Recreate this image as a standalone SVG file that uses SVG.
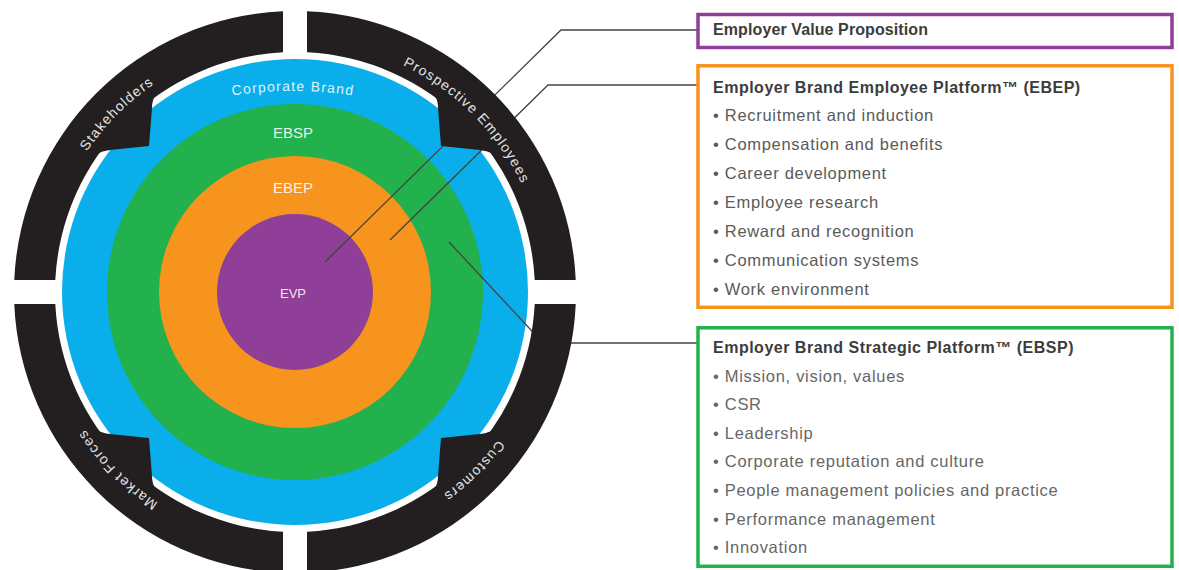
<svg xmlns="http://www.w3.org/2000/svg" width="1179" height="570" viewBox="0 0 1179 570">
<defs>
<style>
.f{font-family:"Liberation Sans",Arial,sans-serif}
.ring{font-size:14px;fill:#e2e2e2;letter-spacing:1.2px}
.inner{font-size:15px;fill:#ffffff;fill-opacity:0.88;text-anchor:middle}
.title{font-size:16px;font-weight:bold;fill:#3c3c3c;letter-spacing:0.5px}
.item{font-size:16.5px;fill:#5a5a5a;letter-spacing:0.7px}
.item2{font-size:16.5px;fill:#666666;letter-spacing:0.7px}
.box{fill:#ffffff;stroke-width:3.5}
.conn{fill:none;stroke:#444444;stroke-width:1.3}
.blk{fill:#231f20}
</style>
<path id="lblCircle" d="M 44,292 A 251 251 0 1 1 546,292 A 251 251 0 1 1 44,292"/>
<path id="cbArc" d="M 213,99 A 400 400 0 0 1 373,99"/>
<g id="seg" class="blk">
<path d="M 14.26,280 A 281 281 0 0 1 283,11.26 L 283,52.3 A 240 240 0 0 0 55.3,280 Z"/>
<path d="M 80,136 L 97,154 Q 102,151 110,150 L 149,146 L 152,108 Q 152,101 155,96 L 137,81 Z"/>
</g>
</defs>
<rect width="1179" height="570" fill="#ffffff"/>

<g id="corporate-brand">
<circle cx="295" cy="292" r="233" fill="#0aaeea"/>
<text class="f inner" style="font-size:14px;letter-spacing:1.2px"><textPath href="#cbArc" startOffset="50%">Corporate Brand</textPath></text>
</g>
<g id="ebsp-ring">
<circle cx="295" cy="292" r="188" fill="#22b14c"/>
<text class="f inner" x="293" y="138">EBSP</text>
</g>
<g id="ebep-ring">
<circle cx="295" cy="292" r="136" fill="#f7941d"/>
<text class="f inner" x="293" y="193">EBEP</text>
</g>
<g id="evp-core">
<circle cx="295" cy="292" r="78" fill="#8f3f97"/>
<text class="f inner" x="293" y="298" style="font-size:13px">EVP</text>
</g>

<g id="connectors">
<polyline class="conn" points="325,262 561,30 698,30"/>
<polyline class="conn" points="390,240 548,85 698,85"/>
<polyline class="conn" points="449,242 543,343 698,343"/>
</g>

<g id="stakeholders">
<use href="#seg"/>
<text class="f ring"><textPath href="#lblCircle" startOffset="12.5%" text-anchor="middle">Stakeholders</textPath></text>
</g>
<g id="prospective-employees">
<use href="#seg" transform="matrix(-1 0 0 1 590 0)"/>
<text class="f ring"><textPath href="#lblCircle" startOffset="37.5%" text-anchor="middle">Prospective Employees</textPath></text>
</g>
<g id="customers">
<use href="#seg" transform="matrix(-1 0 0 -1 590 584)"/>
<text class="f ring"><textPath href="#lblCircle" startOffset="62.5%" text-anchor="middle">Customers</textPath></text>
</g>
<g id="market-forces">
<use href="#seg" transform="matrix(1 0 0 -1 0 584)"/>
<text class="f ring"><textPath href="#lblCircle" startOffset="87.5%" text-anchor="middle">Market Forces</textPath></text>
</g>

<g id="box-evp">
<rect class="box" x="698" y="14.5" width="474" height="33" stroke="#8f3f97"/>
<text class="f title" x="713" y="35" style="letter-spacing:0.1px">Employer Value Proposition</text>
</g>

<g id="box-ebep">
<rect class="box" x="698" y="65.8" width="474" height="241.5" stroke="#f7941d"/>
<text class="f title" x="713" y="92.5">Employer Brand Employee Platform™ (EBEP)</text>
<text class="f item" x="713" y="121">• Recruitment and induction</text>
<text class="f item" x="713" y="150">• Compensation and benefits</text>
<text class="f item" x="713" y="179">• Career development</text>
<text class="f item" x="713" y="208">• Employee research</text>
<text class="f item" x="713" y="237">• Reward and recognition</text>
<text class="f item" x="713" y="266">• Communication systems</text>
<text class="f item" x="713" y="295">• Work environment</text>
</g>

<g id="box-ebsp">
<rect class="box" x="698" y="327.8" width="474" height="238.5" stroke="#22b14c"/>
<text class="f title" x="713" y="352.5">Employer Brand Strategic Platform™ (EBSP)</text>
<text class="f item2" x="713" y="381.5">• Mission, vision, values</text>
<text class="f item2" x="713" y="410">• CSR</text>
<text class="f item2" x="713" y="438.7">• Leadership</text>
<text class="f item2" x="713" y="467.3">• Corporate reputation and culture</text>
<text class="f item2" x="713" y="496">• People management policies and practice</text>
<text class="f item2" x="713" y="524.5">• Performance management</text>
<text class="f item2" x="713" y="553">• Innovation</text>
</g>
</svg>
